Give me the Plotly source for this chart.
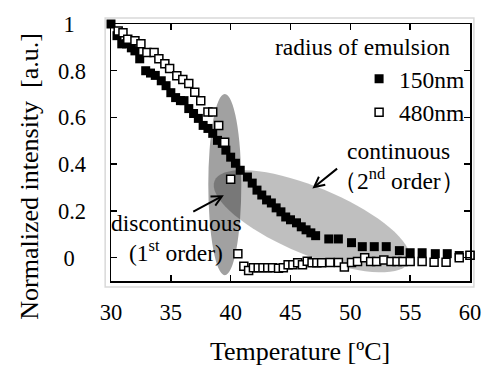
import math
import plotly.graph_objects as go

# ---- data ----
temp_150 = [30.0, 30.5, 30.9, 31.3, 31.7, 32.0, 32.4, 32.9, 33.3, 33.7,
            34.2, 34.6, 35.0, 35.4, 35.8, 36.1, 36.5, 36.9, 37.3, 37.7,
            38.1, 38.5, 38.9, 39.3, 39.6, 40.0, 40.4, 40.8, 41.4, 41.8,
            42.2, 42.6, 43.0, 43.4, 43.8, 44.2, 44.6, 45.0, 45.5, 45.9,
            46.3, 46.7, 47.1, 48.2, 49.0, 50.1, 51.0, 52.0, 53.0, 54.1,
            55.0, 56.0, 57.1, 58.1, 59.1, 60.0]
int_150 = [1.0, 0.95, 0.915, 0.915, 0.898, 0.885, 0.851, 0.80, 0.79, 0.78,
           0.757, 0.736, 0.706, 0.685, 0.672, 0.672, 0.638, 0.617, 0.596, 0.566,
           0.553, 0.532, 0.502, 0.489, 0.46, 0.43, 0.404, 0.374, 0.345, 0.319,
           0.289, 0.268, 0.247, 0.234, 0.213, 0.196, 0.174, 0.162, 0.149, 0.132,
           0.119, 0.106, 0.094, 0.08, 0.08, 0.064, 0.047, 0.047, 0.047, 0.03,
           0.021, 0.021, 0.017, 0.017, 0.009, 0.009]

temp_480 = [30.6, 31.0, 31.4, 32.0, 32.5, 33.0, 33.6, 34.0, 34.5, 34.9,
            35.5, 36.0, 36.5, 37.0, 37.5, 38.1, 38.5, 39.0, 39.5, 40.0,
            40.6, 41.1, 41.5, 41.9, 42.3, 42.7, 43.1, 43.5, 44.0, 44.4,
            44.8, 45.2, 45.6, 46.0, 46.4, 46.8, 47.2, 47.6, 48.3, 49.0,
            49.5, 50.1, 50.6, 51.2, 51.7, 52.2, 52.8, 53.4, 53.9, 54.4,
            55.0, 56.0, 57.0, 58.0, 59.1, 60.0]
int_480 = [0.97, 0.963, 0.935, 0.928, 0.915, 0.878, 0.878, 0.851, 0.83, 0.809,
           0.779, 0.762, 0.745, 0.708, 0.672, 0.623, 0.623, 0.566, 0.494, 0.336,
           0.017, -0.037, -0.055, -0.043, -0.043, -0.043, -0.043, -0.043, -0.045, -0.043,
           -0.03, -0.03, -0.022, -0.03, -0.016, -0.022, -0.022, -0.022, -0.021, -0.021,
           -0.04, -0.021, -0.017, 0.0, -0.017, -0.017, -0.01, -0.017, -0.017, -0.017,
           -0.017, -0.017, -0.02, -0.02, 0.0, 0.01]

x_ticks = [30, 35, 40, 45, 50, 55, 60]
y_ticks = [0, 0.2, 0.4, 0.6, 0.8, 1]
y_tick_labels = ["0\u00a0\u00a0", "0.2", "0.4", "0.6", "0.8", "1\u00a0\u00a0"]
series_names = ["150nm", "480nm"]

# ---- layout geometry (page pixels; body margin is zeroed below) ----
W, H = 493, 365
PAGE_L, PAGE_R, PAGE_T, PAGE_B = 111, 480, 23, 281   # plot area
ML, MT, MR, MB = PAGE_L, PAGE_T, W - PAGE_R, H - PAGE_B
PW, PH = W - ML - MR, H - MT - MB
X_RANGE = [30, 60]
Y_RANGE = [-0.1, 1.0]
PX_X = PW / (X_RANGE[1] - X_RANGE[0])
PX_Y = PH / (Y_RANGE[1] - Y_RANGE[0])


def px(page_x):
    return (page_x - PAGE_L) / PW


def py(page_y):
    return (PAGE_B - page_y) / PH


FONT = "'Liberation Serif', 'Times New Roman', Times, serif"


def ellipse_path(cx, cy, a_px, b_px, angle_deg, n=72):
    ang = math.radians(angle_deg)
    parts = []
    for k in range(n + 1):
        t = 2 * math.pi * k / n
        dx = a_px * math.cos(t) * math.cos(ang) - b_px * math.sin(t) * math.sin(ang)
        dy = a_px * math.cos(t) * math.sin(ang) + b_px * math.sin(t) * math.cos(ang)
        X = cx + dx / PX_X
        Y = cy - dy / PX_Y
        parts.append(("M" if k == 0 else "L") + f"{X:.4f},{Y:.4f}")
    return " ".join(parts) + " Z"


fig = go.Figure()
fig.add_trace(go.Scatter(
    x=temp_150, y=int_150, mode="markers", name=series_names[0],
    marker=dict(symbol="square", size=9, color="black",
                line=dict(color="black", width=0)),
    cliponaxis=False, hoverinfo="skip"))
fig.add_trace(go.Scatter(
    x=temp_480, y=int_480, mode="markers", name=series_names[1],
    marker=dict(symbol="square", size=8, color="white",
                line=dict(color="black", width=1.5)),
    cliponaxis=False, hoverinfo="skip"))

shapes = [
    # outer chart-area frame
    dict(type="rect", xref="paper", yref="paper",
         x0=px(105), x1=px(484), y0=py(287), y1=py(17),
         line=dict(color="#d9d9d9", width=1.5), fillcolor="rgba(0,0,0,0)",
         layer="below"),
    # 1st-order (vertical) ellipse
    dict(type="circle", xref="x", yref="y", x0=38.13, x1=40.89, y0=-0.075, y1=0.70,
         fillcolor="rgba(0,0,0,0.37)", line=dict(width=0), layer="below"),
    # 2nd-order (slanted) ellipse
    dict(type="path", xref="x", yref="y",
         path=ellipse_path(46.79, 0.156, 108, 34, 22),
         fillcolor="rgba(0,0,0,0.25)", line=dict(width=0), layer="below"),
]

TXT = dict(family=FONT, size=23.5, color="black")
annotations = [
    dict(text="radius of emulsion", xref="paper", yref="paper",
         x=px(462), y=py(46), xanchor="right", yanchor="middle",
         showarrow=False, font=TXT),
    dict(text="continuous", x=54.0, y=0.458, xref="x", yref="y",
         showarrow=False, font=TXT),
    dict(text="（2<sup>nd</sup> order）", x=54.05, y=0.335, xref="x", yref="y",
         showarrow=False, font=TXT),
    dict(text="discontinuous", x=35.45, y=0.147, xref="x", yref="y",
         showarrow=False, font=TXT),
    dict(text="(1<sup>st</sup> order)", x=35.4, y=0.028, xref="x", yref="y",
         showarrow=False, font=TXT),
    # arrows
    dict(text="", x=39.43, y=0.267, ax=36.75, ay=0.194, xref="x", yref="y",
         axref="x", ayref="y", showarrow=True, arrowhead=5, arrowsize=1,
         arrowwidth=2, arrowcolor="black"),
    dict(text="", x=46.83, y=0.296, ax=49.02, ay=0.386, xref="x", yref="y",
         axref="x", ayref="y", showarrow=True, arrowhead=5, arrowsize=1,
         arrowwidth=2, arrowcolor="black"),
    # axis titles
    dict(text="Temperature [ºC]", xref="paper", yref="paper",
         x=px(305), y=py(352), xanchor="center", yanchor="middle",
         showarrow=False, font=dict(family=FONT, size=26, color="black")),
    dict(text="Normalized intensity  [a.u.]", xref="paper", yref="paper",
         x=px(27), y=py(176), xanchor="center", yanchor="middle",
         textangle=-90, showarrow=False,
         font=dict(family=FONT, size=26, color="black")),
]

axis_common = dict(showline=True, linecolor="black", linewidth=1.5, mirror="ticks",
                   ticks="inside", ticklen=6, tickwidth=1.5, tickcolor="black",
                   showgrid=False, zeroline=False,
                   tickfont=dict(family=FONT, size=22.5, color="black"))

fig.update_layout(
    width=W, height=H,
    margin=dict(l=ML, r=MR, t=MT, b=MB, pad=0),
    paper_bgcolor="white", plot_bgcolor="white",
    font=dict(family=FONT, color="black"),
    hovermode=False,
    xaxis=dict(range=X_RANGE, tickvals=x_ticks, ticklabelstandoff=10, **axis_common),
    yaxis=dict(range=Y_RANGE, tickvals=y_ticks, ticktext=y_tick_labels,
               ticklabelstandoff=19, **axis_common),
    shapes=shapes,
    annotations=annotations,
    showlegend=True,
    legend=dict(x=px(366), y=py(56), xanchor="left", yanchor="top",
                bgcolor="rgba(0,0,0,0)",
                font=dict(family=FONT, size=23.5, color="black"),
                itemwidth=30, tracegroupgap=0),
)

fig.write_html("out.html",
               config={"displayModeBar": False, "staticPlot": True},
               post_script="document.body.style.margin='0px';"
                           "document.body.style.overflow='hidden';")
